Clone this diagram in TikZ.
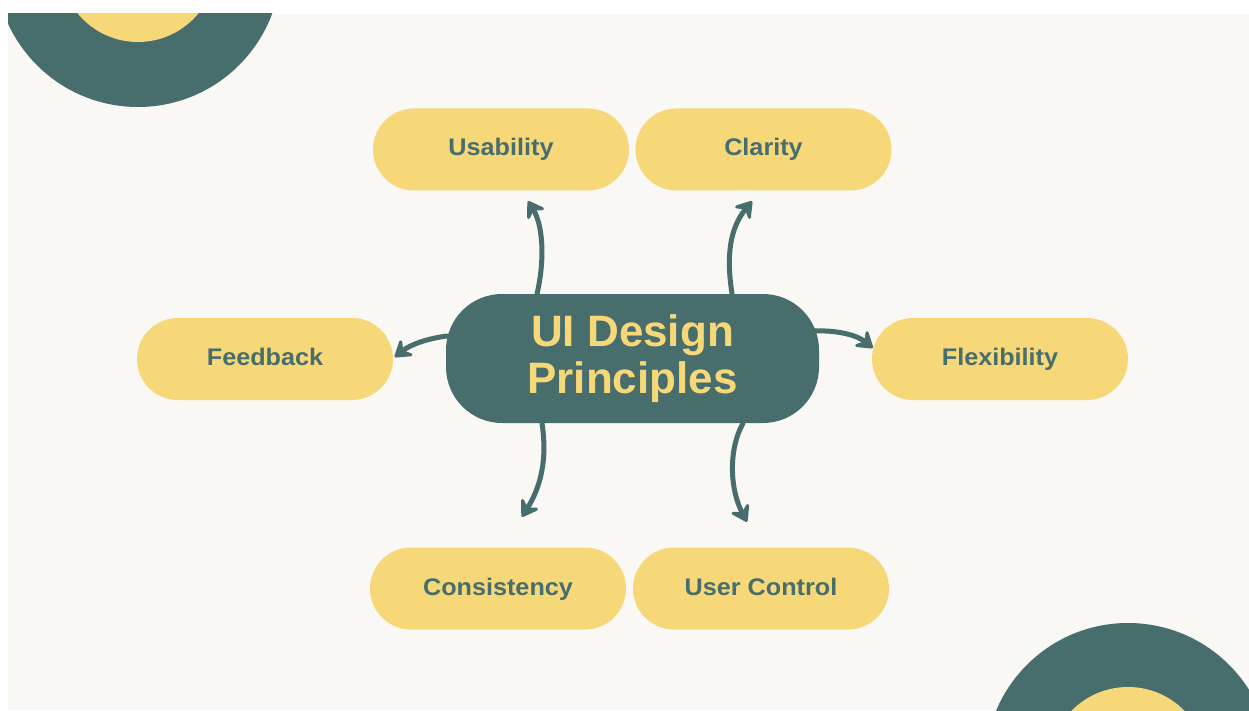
\documentclass[tikz,border=0pt]{standalone}
\usepackage{fontspec}
\setmainfont{Liberation Sans}
\newfontfamily\pillfont[FakeStretch=1.05]{Liberation Sans}
\usetikzlibrary{arrows.meta,calc}
\definecolor{teal}{HTML}{486D6D}
\definecolor{sun}{HTML}{F7D878}
\definecolor{paper}{HTML}{F9F8F4}
\tikzset{
  pill/.style={rectangle, rounded corners=41pt, fill=sun, minimum width=256pt, minimum height=82pt,
    inner sep=0pt, text=teal, text height=17pt, text depth=4pt,
    font=\pillfont\fontsize{24}{26}\selectfont\bfseries},
  hub/.style={rectangle, rounded corners=56pt, fill=teal, minimum width=373pt, minimum height=129pt,
    inner sep=0pt, text=sun, align=center, font=\fontsize{44}{47}\selectfont\bfseries},
  headtip/.tip={Stealth[length=20pt,width=26pt,inset=8pt,line width=3pt,round]},
  link/.style={draw=teal, line width=5pt, line cap=round, -headtip}
}
\begin{document}
\begin{tikzpicture}[x=1pt,y=-1pt]
\useasboundingbox (0,0) rectangle (1249,711);
\fill[white] (0,0) rectangle (1249,711);
\fill[paper] (8,14) rectangle (1249,710);
\begin{scope}
  \clip (8,14) rectangle (1249,710);
  \fill[teal] (138,-36) circle[radius=143pt];
  \fill[sun] (138,-36) circle[radius=78pt];
  \fill[teal] (1128,766) circle[radius=143pt];
  \fill[sun] (1128,766) circle[radius=79pt];
\end{scope}
\node[hub] (c) at (632.5,358.5) {UI Design\\Principles};
\node[pill] (use) at (501,149.5) {Usability};
\node[pill] (cla) at (763.5,149.5) {Clarity};
\node[pill] (fb) at (265,359) {Feedback};
\node[pill] (fl) at (1000,359) {Flexibility};
\node[pill] (con) at (498,588.5) {Consistency};
\node[pill] (uc) at (761,588.5) {User Control};
\draw[link] ($(c.north)+(-95.5,0)$) .. controls (545,260) and (543,225) .. ($(use.south)+(27,10.5)$);
\draw[link] ($(c.north)+(99.5,0)$) .. controls (726,255) and (730,228) .. ($(cla.south)+(-11.5,10.5)$);
\draw[link] ($(c.west)+(1,-22.5)$) .. controls (425,339) and (410,345) .. ($(fb.east)+(1.5,-2)$);
\draw[link] ($(c.east)+(-5,-27.5)$) .. controls (840,330) and (858,336) .. ($(fl.west)+(1,-11)$);
\draw[link] ($(c.south)+(-90.5,0)$) .. controls (546,450) and (545,480) .. ($(con.north)+(24,-30.5)$);
\draw[link] ($(c.south)+(110.5,0)$) .. controls (728,450) and (730,490) .. ($(uc.north)+(-14,-25.5)$);
\end{tikzpicture}
\end{document}
